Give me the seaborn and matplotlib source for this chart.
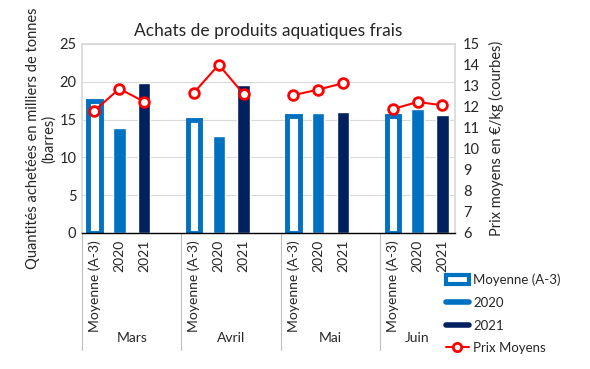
import numpy as np
import pandas as pd
import matplotlib
matplotlib.use("Agg")
import matplotlib.pyplot as plt
import seaborn as sns

from matplotlib.patches import Patch
from matplotlib.lines import Line2D

# ======================================
# Data
# ======================================

months = ["Mars", "Avril", "Mai", "Juin"]
series = ["Moyenne (A-3)", "2020", "2021"]

qty_moyenne = [17.4, 15.0, 15.5, 15.5]
qty_2020 = [13.9, 12.8, 15.9, 16.4]
qty_2021 = [19.9, 19.6, 16.0, 15.6]

price_moyenne = [11.82, 12.68, 12.56, 11.90]
price_2020 = [12.87, 14.01, 12.83, 12.24]
price_2021 = [12.25, 12.62, 13.13, 12.08]

left_ticks = [0, 5, 10, 15, 20, 25]
right_ticks = [6, 7, 8, 9, 10, 11, 12, 13, 14, 15]

BLUE = "#0070C0"
NAVY = "#002060"
RED = "#FF0000"
FONT = ["Lato", "DejaVu Sans"]


# ======================================
# Build tables
# ======================================

def build_slots():

    slots = []

    for i, month in enumerate(months):
        for s in series:
            slots.append(f"{month}|{s}")
        if i < len(months) - 1:
            slots.append(f"gap{i}")

    return slots


def build_tables(slots):

    qty = {
        "Moyenne (A-3)": qty_moyenne,
        "2020": qty_2020,
        "2021": qty_2021
    }

    price = {
        "Moyenne (A-3)": price_moyenne,
        "2020": price_2020,
        "2021": price_2021
    }

    rows = []

    for m, month in enumerate(months):
        for s in series:
            key = f"{month}|{s}"
            rows.append({
                "slot": key,
                "pos": slots.index(key),
                "month": month,
                "serie": s,
                "qty": qty[s][m],
                "price": price[s][m]
            })

    return pd.DataFrame(rows)


# ======================================
# Plot
# ======================================

def plot_chart(df, slots):

    sns.set_theme(style="white")
    plt.rcParams["font.family"] = FONT

    fig = plt.figure(figsize=(5.9, 3.69), dpi=100)
    ax = fig.add_axes([0.139, 0.3686, 0.632, 0.5122])

    sns.barplot(
        data=df,
        x="slot",
        y="qty",
        hue="serie",
        order=slots,
        hue_order=series,
        palette=[BLUE, BLUE, NAVY],
        dodge=False,
        width=0.5,
        saturation=1,
        legend=False,
        ax=ax
    )

    # Moyenne bars: white fill, thick blue outline
    for bar in ax.containers[0]:
        bar.set_facecolor("white")
        bar.set_edgecolor(BLUE)
        bar.set_linewidth(3.5)

    ax.set_ylim(0, 25)
    ax.set_yticks(left_ticks)
    ax.set_xlim(-0.5, len(slots) - 0.5)

    ax.grid(axis="y", color="#d9d9d9", linewidth=0.8)
    ax.set_axisbelow(True)

    labels = [s.split("|")[1] if "|" in s else "" for s in slots]
    ax.set_xticks(range(len(slots)))
    ax.set_xticklabels(labels, rotation=90, fontsize=10)
    ax.tick_params(axis="x", length=0, pad=5)
    ax.tick_params(axis="y", length=0, labelsize=10.5, pad=4)

    for side in ["top", "left", "right"]:
        ax.spines[side].set_color("#d9d9d9")
    ax.spines["bottom"].set_color("black")
    ax.spines["bottom"].set_linewidth(1)

    ax.set_xlabel("")
    ax.set_ylabel(
        "Quantités achetées en milliers de tonnes\n(barres)",
        fontsize=10.5,
        linespacing=1.2,
        labelpad=2
    )

    # Month dividers (between gap slot and next month) and labels
    trans = ax.get_xaxis_transform()
    dividers = [-0.5] + [slots.index(f"gap{i}") + 0.5 for i in range(len(months) - 1)]
    for xd in dividers:
        ax.plot(
            [xd, xd], [0, -0.62],
            transform=trans,
            color="#bfbfbf",
            linewidth=0.8,
            clip_on=False
        )

    edges = dividers + [len(slots) - 0.5]
    for i, month in enumerate(months):
        mid = (edges[i] + edges[i + 1]) / 2
        ax.text(
            mid, -0.556, month,
            transform=trans,
            ha="center",
            va="center",
            fontsize=10
        )

    # Price lines on the right axis
    ax2 = ax.twinx()

    sns.lineplot(
        data=df,
        x="pos",
        y="price",
        units="month",
        estimator=None,
        color=RED,
        linewidth=1.5,
        marker="o",
        markersize=7,
        markerfacecolor="white",
        markeredgecolor=RED,
        markeredgewidth=2,
        ax=ax2
    )

    ax2.set_ylim(6, 15)
    ax2.set_yticks(right_ticks)
    ax2.tick_params(axis="y", length=0, labelsize=10.5, pad=6)
    ax2.set_ylabel(
        "Prix moyens en €/kg (courbes)",
        fontsize=10.5,
        labelpad=6
    )
    ax2.set_xlabel("")
    for side in ["top", "left", "right", "bottom"]:
        ax2.spines[side].set_visible(False)

    ax.set_title(
        "Achats de produits aquatiques frais",
        fontsize=12.5,
        pad=6
    )

    handles = [
        Patch(facecolor="white", edgecolor=BLUE, linewidth=3),
        Line2D([], [], color=BLUE, linewidth=4),
        Line2D([], [], color=NAVY, linewidth=4),
        Line2D(
            [], [], color=RED, linewidth=1.5,
            marker="o", markersize=6,
            markerfacecolor="white",
            markeredgecolor=RED,
            markeredgewidth=2
        )
    ]

    fig.legend(
        handles,
        ["Moyenne (A-3)", "2020", "2021", "Prix Moyens"],
        loc="upper left",
        bbox_to_anchor=(0.735, 0.29),
        frameon=False,
        fontsize=9.5,
        handlelength=1.8,
        handleheight=0.7,
        labelspacing=0.8,
        handletextpad=0.3
    )

    fig.savefig("out.png", dpi=100)
    plt.close(fig)


def main():

    slots = build_slots()
    df = build_tables(slots)
    plot_chart(df, slots)


if __name__ == "__main__":
    main()
